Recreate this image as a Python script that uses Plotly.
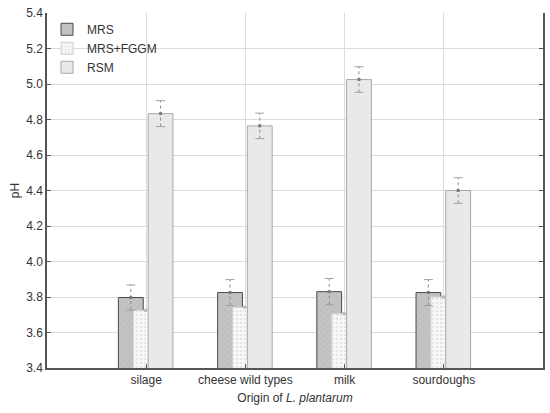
import plotly.graph_objects as go

categories = ["silage", "cheese wild types", "milk", "sourdoughs"]
mrs = [3.797, 3.825, 3.83, 3.825]
mrs_err = [0.071, 0.073, 0.074, 0.073]
fggm = [3.725, 3.742, 3.706, 3.80]
rsm = [4.833, 4.764, 5.025, 4.40]
rsm_err = [0.073, 0.072, 0.072, 0.072]

xs = list(range(len(categories)))
W = 0.25
offs = {"MRS": -0.28, "MRS+FGGM": -0.13, "RSM": 0.02}

FONT = "Liberation Sans, Arial, sans-serif"
fig = go.Figure()

fig.add_trace(go.Bar(
    x=xs, y=mrs, name="MRS", width=W, offset=offs["MRS"],
    marker=dict(color="#c4c4c4", line=dict(color="#4a4a4a", width=1),
                pattern=dict(shape="x", fgcolor="#a6a6a6", bgcolor="#c4c4c4", size=4, solidity=0.2)),
))
fig.add_trace(go.Bar(
    x=xs, y=fggm, name="MRS+FGGM", width=W, offset=offs["MRS+FGGM"],
    marker=dict(color="#f6f6f6", line=dict(color="#d0d0d0", width=1),
                pattern=dict(shape=".", fgcolor="#d2d2d2", bgcolor="#f8f8f8", size=4, solidity=0.3)),
))
fig.add_trace(go.Bar(
    x=xs, y=rsm, name="RSM", width=W, offset=offs["RSM"],
    marker=dict(color="#e9e9e9", line=dict(color="#a8a8a8", width=1)),
))

def err_segments(vals, errs, off):
    vx, vy, cx, cy = [], [], [], []
    cap = 0.045
    for i, (v, e) in enumerate(zip(vals, errs)):
        c = i + off + W / 2
        vx += [c, c, None]
        vy += [v - e, v + e, None]
        cx += [c - cap, c + cap, None, c - cap, c + cap, None]
        cy += [v + e, v + e, None, v - e, v - e, None]
    return vx, vy, cx, cy

for vals, errs, key in [(mrs, mrs_err, "MRS"), (rsm, rsm_err, "RSM")]:
    vx, vy, cx, cy = err_segments(vals, errs, offs[key])
    fig.add_trace(go.Scatter(x=vx, y=vy, mode="lines", showlegend=False, hoverinfo="skip",
                             line=dict(color="#8a8a8a", width=1, dash="dot")))
    fig.add_trace(go.Scatter(x=cx, y=cy, mode="lines", showlegend=False, hoverinfo="skip",
                             line=dict(color="#a0a0a0", width=1)))

for vals, key, col in [(mrs, "MRS", "#7a7a7a"), (fggm, "MRS+FGGM", "#b8b8b8"), (rsm, "RSM", "#7a7a7a")]:
    fig.add_trace(go.Scatter(x=[i + offs[key] + W / 2 for i in xs], y=vals, mode="markers",
                             showlegend=False, hoverinfo="skip",
                             marker=dict(size=3, color=col, symbol="square")))

fig.update_layout(
    width=550, height=413,
    margin=dict(l=47, r=7, t=13, b=45),
    barmode="overlay",
    plot_bgcolor="white", paper_bgcolor="white",
    font=dict(family=FONT, size=12, color="#333333"),
    legend=dict(x=0.0, y=0.995, xanchor="left", yanchor="top", bgcolor="rgba(0,0,0,0)",
                font=dict(size=12, color="#333333"), itemwidth=30, tracegroupgap=0),
    xaxis=dict(range=[-1, 4], tickmode="array", tickvals=xs, ticktext=categories,
               automargin=False,
               showgrid=True, gridcolor="#dcdcdc", gridwidth=1, zeroline=False,
               showline=True, linecolor="#555555", linewidth=1.5, mirror=False,
               ticks="inside", ticklen=4, tickcolor="#555555",
               tickfont=dict(size=12, color="#333333"),
               title=dict(text="Origin of <i>L. plantarum</i>", font=dict(size=12, color="#333333"), standoff=7)),
    yaxis=dict(range=[3.4, 5.4], tickmode="array", tickvals=[3.4 + 0.2 * k for k in range(11)],
               automargin=False,
               tickformat=".1f", showgrid=True, gridcolor="#dcdcdc", gridwidth=1, zeroline=False,
               showline=True, linecolor="#555555", linewidth=1.5, mirror="ticks",
               ticks="inside", ticklen=4, tickcolor="#555555",
               tickfont=dict(size=12, color="#333333"),
               title=dict(text="pH", font=dict(size=12, color="#333333"), standoff=4)),
)

fig.write_html("out.html", config={"displayModeBar": False},
               post_script="document.body.style.margin='0';document.body.style.overflow='hidden';")
